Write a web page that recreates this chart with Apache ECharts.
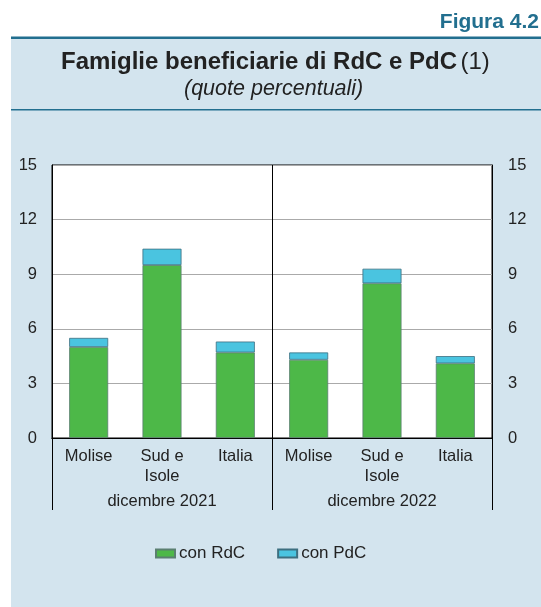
<!DOCTYPE html>
<html>
<head>
<meta charset="utf-8">
<script src="https://cdn.jsdelivr.net/npm/echarts@6/dist/echarts.min.js"></script>
<style>
  html, body { margin: 0; padding: 0; background: #ffffff; }
  #chart { width: 541px; height: 607px; }
</style>
</head>
<body>
<div id="chart"></div>
<script>
  const categories = ['Molise', 'Sud e\nIsole', 'Italia', 'Molise', 'Sud e\nIsole', 'Italia'];
  const groups = ['dicembre 2021', 'dicembre 2022'];
  const conRdC = [5.0, 9.5, 4.7, 4.3, 8.5, 4.1];
  const conPdC = [0.5, 0.9, 0.6, 0.4, 0.8, 0.4];
  const yTicks = { min: 0, max: 15, interval: 3 };

  const font = '"Liberation Sans", Arial, sans-serif';
  const panel = '#d3e4ee';
  const teal = '#226f8f';

  const chart = echarts.init(document.getElementById('chart'));
  chart.setOption({
    animation: false,
    backgroundColor: '#ffffff',
    textStyle: { fontFamily: font },
    graphic: [
      { type: 'rect', z: -10, shape: { x: 11, y: 37, width: 530, height: 570 }, style: { fill: panel } },
      { type: 'rect', z: -9, shape: { x: 11, y: 36.5, width: 530, height: 2.5 }, style: { fill: teal } },
      { type: 'rect', z: -9, shape: { x: 11, y: 109, width: 530, height: 1.5 }, style: { fill: teal } },
      {
        type: 'text', right: 2, top: 12,
        style: { text: 'Figura 4.2', font: 'bold 21px ' + font, fill: teal }
      },
      {
        type: 'text', left: 61, top: 50,
        style: {
          text: '{b|Famiglie beneficiarie di RdC e PdC} {n|(1)}',
          rich: {
            b: { font: 'bold 24px ' + font, fill: '#222' },
            n: { font: '24px ' + font, fill: '#222' }
          }
        }
      },
      {
        type: 'text', left: 184, top: 78,
        style: { text: '(quote percentuali)', font: 'italic 21.5px ' + font, fill: '#222' }
      }
    ],
    grid: {
      left: 52, right: 49, top: 165, bottom: 169,
      show: true, backgroundColor: '#ffffff', borderColor: '#000', borderWidth: 1
    },
    legend: {
      bottom: 45, left: 155, padding: 0,
      icon: 'rect',
      itemWidth: 19, itemHeight: 8, itemGap: 32,
      textStyle: { fontSize: 17, color: '#222', fontFamily: font, padding: [0, 0, 0, -1] },
      data: ['con RdC', 'con PdC']
    },
    xAxis: [
      {
        type: 'category', data: categories, position: 'bottom',
        axisLine: { lineStyle: { color: '#000', width: 1 } },
        axisTick: { show: false },
        axisLabel: { fontSize: 16.5, color: '#222', margin: 8, lineHeight: 20, interval: 0 }
      },
      {
        type: 'category', data: groups, position: 'bottom',
        axisLine: { show: true, lineStyle: { color: '#000', width: 1 } },
        axisTick: { show: true, length: 72, lineStyle: { color: '#000', width: 1 } },
        axisLabel: { fontSize: 16.5, color: '#222', margin: 55 },
        splitLine: { show: true, lineStyle: { color: '#000', width: 1 } }
      }
    ],
    yAxis: [
      {
        type: 'value', position: 'left', ...yTicks,
        axisLine: { show: true, lineStyle: { color: '#000' } },
        axisTick: { show: false },
        axisLabel: { fontSize: 16.5, color: '#222', margin: 15 },
        splitLine: { show: true, lineStyle: { color: '#aaaaaa', width: 1 } }
      },
      {
        type: 'value', position: 'right', ...yTicks,
        axisLine: { show: true, lineStyle: { color: '#000' } },
        axisTick: { show: false },
        axisLabel: { fontSize: 16.5, color: '#222', margin: 16 },
        splitLine: { show: false }
      }
    ],
    series: [
      {
        name: 'con RdC', type: 'bar', stack: 'tot', data: conRdC, barWidth: 39,
        itemStyle: { color: '#4db848', borderColor: '#5b7f70', borderWidth: 0.8 }
      },
      {
        name: 'con PdC', type: 'bar', stack: 'tot', data: conPdC, barWidth: 39,
        itemStyle: { color: '#4ac4e0', borderColor: '#3d6f80', borderWidth: 0.8 }
      }
    ]
  });
</script>
</body>
</html>
